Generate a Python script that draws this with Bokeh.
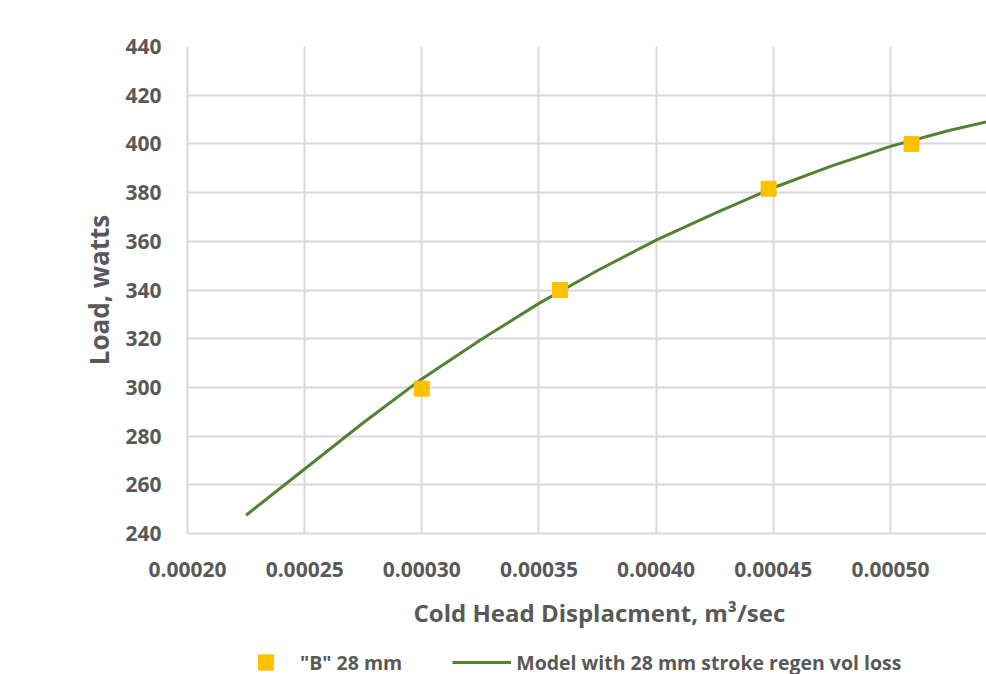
from bokeh.plotting import figure
from bokeh.layouts import column
from bokeh.models import (Range1d, SingleIntervalTicker, NumeralTickFormatter, Legend,
                          LegendItem, Label, ColumnDataSource)
from bokeh.embed import file_html
from bokeh.resources import INLINE

# Measured points: "B" 28 mm
meas_x = [0.000300, 0.000359, 0.000448, 0.000509]
meas_y = [299.5, 340.0, 381.6, 400.0]

# Model curve: 28 mm stroke regen vol loss
model_x = [0.000225, 0.000250, 0.000275, 0.000300, 0.000325, 0.000350, 0.000375,
           0.000400, 0.000425, 0.000450, 0.000475, 0.000500, 0.000525, 0.000550]
model_y = [247.5, 266.5, 285.5, 303.5, 319.5, 334.5, 348.0,
           360.5, 371.5, 382.0, 391.0, 399.0, 405.5, 411.0]

x_title = "Cold Head Displacment, m\u00b3/sec"
y_title = "Load, watts"
meas_label = '"B" 28 mm'
model_label = "Model with 28 mm stroke regen vol loss"

FONT = "Open Sans"
TXT = "#595959"
GRID = "#d9d9d9"
LINE_C = "#548235"
MARK_C = "#FFC000"

xr = Range1d(0.0002, 0.000541)

# ---- main chart ----
p = figure(width=986, height=590, output_backend="svg", toolbar_location=None,
           x_range=xr, y_range=Range1d(240, 440),
           min_border_left=187, min_border_top=46, min_border_bottom=57,
           min_border_right=0)
p.outline_line_color = None
p.background_fill_color = "white"
p.border_fill_color = "white"

p.xaxis.ticker = SingleIntervalTicker(interval=0.00005)
p.yaxis.ticker = SingleIntervalTicker(interval=20)
p.xaxis.formatter = NumeralTickFormatter(format="0.00000")

for ax in (p.xaxis[0], p.yaxis[0]):
    ax.axis_line_color = GRID
    ax.axis_line_width = 2
    ax.major_tick_line_color = None
    ax.minor_tick_line_color = None
    ax.major_label_text_font = FONT
    ax.major_label_text_font_style = "bold"
    ax.major_label_text_font_size = "21px"
    ax.major_label_text_color = TXT

p.xaxis.major_label_standoff = 22
p.yaxis.major_label_standoff = 20

p.yaxis.axis_label = y_title
p.yaxis.axis_label_text_font = FONT
p.yaxis.axis_label_text_font_style = "bold"
p.yaxis.axis_label_text_font_size = "26px"
p.yaxis.axis_label_text_color = TXT
p.yaxis.axis_label_standoff = 5

for g in (p.xgrid[0], p.ygrid[0]):
    g.grid_line_color = GRID
    g.grid_line_width = 2

src_m = ColumnDataSource(dict(x=model_x, y=model_y))
src_p = ColumnDataSource(dict(x=meas_x, y=meas_y))
p.line("x", "y", source=src_m, line_color=LINE_C, line_width=3)
p.scatter("x", "y", source=src_p, marker="square", size=15,
          fill_color=MARK_C, line_color=MARK_C)

# ---- strip below: x-axis title and legend (y range in pixels from the bottom) ----
p2 = figure(width=986, height=84, output_backend="svg", toolbar_location=None,
            x_range=xr, y_range=Range1d(0, 84),
            x_axis_location=None, y_axis_location=None,
            min_border_left=187, min_border_top=0, min_border_bottom=0,
            min_border_right=0)
p2.outline_line_color = None
p2.grid.visible = False
p2.background_fill_color = "white"
p2.border_fill_color = "white"

ln2 = p2.line("x", "y", source=src_m, line_color=LINE_C, line_width=3)
sc2 = p2.scatter("x", "y", source=src_p, marker="square", size=15,
                 fill_color=MARK_C, line_color=MARK_C)

p2.add_layout(Label(x=0.0003758, y=62, text=x_title, text_align="center",
                    text_baseline="middle", text_font=FONT, text_font_style="bold",
                    text_font_size="24px", text_color=TXT))

legend = Legend(items=[LegendItem(label=meas_label, renderers=[sc2]),
                       LegendItem(label=model_label, renderers=[ln2])],
                orientation="horizontal", location=(49, -7),
                glyph_width=59, glyph_height=38, label_height=38,
                label_standoff=5, spacing=50,
                padding=0, margin=0, border_line_color=None,
                background_fill_alpha=0,
                label_text_font=FONT, label_text_font_style="bold",
                label_text_font_size="19.5px", label_text_color=TXT)
p2.add_layout(legend)

layout = column(p, p2, spacing=0)
open("out.html", "w").write(file_html(layout, INLINE))
